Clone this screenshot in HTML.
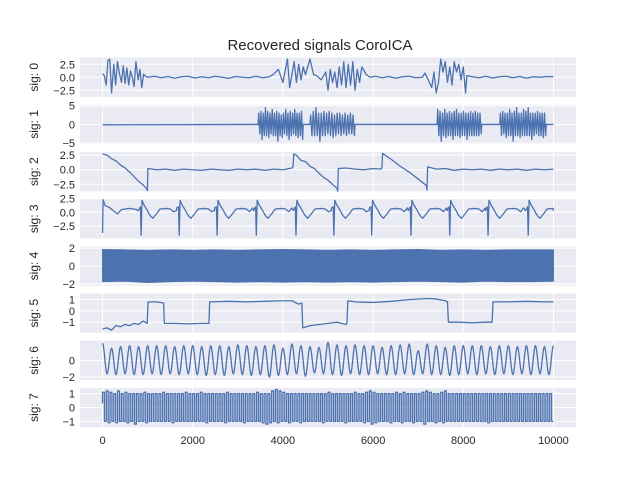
<!DOCTYPE html>
<html><head><meta charset="utf-8"><style>
body{margin:0;background:#fff}
svg text{font-family:"Liberation Sans",Arial,sans-serif;fill:#262626}
</style></head><body>
<svg id="c" width="640" height="480" xmlns="http://www.w3.org/2000/svg">
<text x="320" y="50" text-anchor="middle" font-size="15">Recovered signals CoroICA</text>
</svg>
<script>
const xTicks=[0,2000,4000,6000,8000,10000];
const panelNames=["sig: 0","sig: 1","sig: 2","sig: 3","sig: 4","sig: 5","sig: 6","sig: 7"];
const yRanges=[[-3.78,3.78],[-5.25,5.25],[-3.7,3.05],[-4.8,2.4],[-2.2,2.2],[-1.94,1.54],[-2.35,2.4],[-1.42,1.42]];
const yTicks=[[2.5,0,-2.5],[5,0,-5],[2.5,0,-2.5],[2.5,0,-2.5],[2,0,-2],[1,0,-1],[0,-2],[1,0,-1]];
const yTickLabels=[["2.5","0.0","−2.5"],["5","0","−5"],["2.5","0.0","−2.5"],["2.5","0.0","−2.5"],["2","0","−2"],["1","0","−1"],["0","−2"],["1","0","−1"]];
// sig0
const t0=[0,40,80,120,160,200,250,290,330,380,420,460,500,540,580,620,660,700,740,790,830,870,910,950,1000,1150,1300,1450,1600,1750,1900,2050,2200,2350,2500,2650,2800,2950,3100,3250,3400,3550,3700,3780,3900,4000,4100,4150,4250,4300,4350,4400,4450,4500,4600,4680,4750,4850,4950,5000,5050,5100,5150,5200,5250,5300,5350,5400,5450,5500,5550,5600,5650,5700,5750,5850,5930,6050,6200,6350,6500,6650,6800,6950,7090,7150,7250,7300,7350,7400,7450,7500,7550,7600,7650,7700,7750,7800,7850,7900,7950,8000,8050,8080,8200,8350,8500,8650,8800,8950,9100,9250,9400,9550,9700,9850,10000];
const v0=[0.7,0.3,-1.5,3.2,3.5,-3,2.5,-1.5,3,0.5,-1,2.2,-1.2,1.8,-1.5,1.2,0,-1.8,3,-0.5,1.5,-2,0.6,0.2,0,0.2,-0.1,0.15,-0.2,0.1,0.2,-0.15,0.1,-0.1,0.2,0,-0.2,0.15,0,-0.1,0.2,-0.1,0.1,0.5,1.5,-1,3.5,-2,3,-1,2.5,-0.5,2,0.5,3.5,0.5,0.3,-0.5,1,-2.5,1.5,-1,1,-2,2,-1.5,3,-2,2.5,-1.5,3,-2.5,1.5,-1,2,0.5,0,0.2,-0.1,0.15,-0.2,0.1,0.2,-0.1,0,0.8,-1,-2,1,-3,-1,3.5,1,3,-1,2,-1.5,3,1,2.5,-0.5,2,-3,0.3,0.1,-0.1,0.2,-0.15,0.1,0.2,-0.1,0.15,-0.2,0.1,0,0.15,0.1];
// sig1 bursts
const b1Start=[3450,4600,7420,8810];
const b1End=[4450,5600,8410,9840];
const b1Amp=[[3,-2.5,3.5,-4,3,-3,4.5,-3,3.5,-3.5,3,-2.5,4,-3,3,-3,3.5,-4.5,3,-3,2.5,-3.5,3,-2.5,4,-3,3,-4,3.5,-3,3,-2.5,4,-3,3,-3.5,3,-3,3.5,-4],[2.5,-3,3.5,-3,4.5,-3,3,-4.5,3,-3,3.5,-3,3,-2.5,3.5,-3,3,-3.5,2.5,-3,3,-2.5,3,-3,2.5,-2.5,3,-3,2.5,-2.5,3,-2.5,2.5,-3],[4,-3,3.5,-4.5,3,-3,4,-3.5,3,-3,3.5,-3,3,-4,3.5,-3,4,-3,3,-3.5,3,-3,3.5,-3,3,-4,3,-3,3.5,-3,3,-3,3.5,-3,3,-3,3,-2.5],[3,-3,3.5,-2.5,3,-3.5,3,-3,4,-3,3,-4.5,3.5,-3,4.5,-3,3,-3.5,3,-3,4,-3,3.5,-3,4.5,-3,3,-4,3,-3,3,-2.5,3.5,-3,3,-3,3,-3.5,3,-3]];
// sig2
const t2=[0,100,200,300,400,500,600,700,800,900,980,995,1005,1200,1400,1600,1800,2000,2200,2400,2600,2800,3000,3200,3400,3600,3800,4000,4200,4225,4240,4300,4400,4500,4600,4700,4800,4900,5000,5100,5200,5215,5230,5400,5600,5800,6000,6180,6195,6210,6400,6600,6800,7000,7180,7195,7210,7400,7600,7800,8000,8200,8400,8600,8800,9000,9200,9400,9600,9800,10000];
const v2=[2.7,2.5,1.9,1.5,0.8,0.3,-0.4,-1.2,-2,-2.6,-3.3,-3.6,0.2,0,0.1,-0.1,0.1,0,-0.1,0.1,0,-0.1,0.1,0,0.1,-0.1,0.1,0,0.3,0.5,2.7,2.5,1.6,1.4,0.6,0.2,-0.6,-1.3,-1.8,-2.5,-3.2,-3.7,0.2,0.3,0.1,0,0.2,0.1,0.3,2.8,1.8,0.6,-0.4,-1.6,-2.7,-3.5,0.5,0.1,0.2,-0.1,0.1,0,0.1,-0.1,0.1,0,0.1,-0.1,0.1,0,0.1];
// sig3
const beats3=[855,1700,2540,3410,4290,5130,5970,6840,7700,8550,9440];
const beatOff3=[-60,-15,0,20,60,120,200,260,340,420,550,650,720,790];
const beatVal3=[0.3,1.0,-4.2,2.2,1.4,0.6,-0.6,-1.1,-0.3,0.6,0.7,0.6,0.1,0.8];
// sig4 envelope
const t4=[0,500,1000,1500,2000,2500,3000,3500,4000,4500,5000,5500,6000,6500,7000,7500,8000,8500,9000,9500,10000];
const up4=[1.85,1.8,1.75,1.8,1.75,1.8,1.75,1.8,1.85,1.8,1.75,1.8,1.75,1.8,1.85,1.75,1.8,1.75,1.8,1.8,1.8];
const lo4=[-1.75,-1.7,-1.85,-1.75,-1.7,-1.75,-1.8,-1.75,-1.8,-1.75,-1.8,-1.75,-1.8,-1.75,-1.7,-1.75,-1.8,-1.7,-1.75,-1.75,-1.7];
// sig5
const t5=[0,100,200,300,400,500,600,700,800,900,990,1010,1200,1355,1370,1600,1900,2200,2360,2375,2800,3200,3600,4000,4200,4350,4420,4440,4600,4800,5000,5200,5400,5420,5440,5600,6000,6400,6800,7200,7400,7600,7650,7670,7900,8200,8500,8640,8660,9000,9400,9800,10000];
const v5=[-1.6,-1.5,-1.7,-1.3,-1.4,-1.2,-1.3,-1.1,-1.2,-0.9,-1.1,0.8,0.8,0.7,-1.1,-1.1,-1.15,-1.1,-1.1,0.8,0.85,0.8,0.85,0.9,0.9,0.6,0.7,-1.5,-1.3,-1.2,-1.1,-1.0,-1.2,-1.1,0.9,0.8,0.75,0.85,1.0,1.1,1.05,0.9,0.8,-1.0,-1.0,-1.05,-1.0,-1.0,0.8,0.8,0.85,0.8,0.8];
// sig6 extremes (half-cycles)
const ext6=[2.1,-1.6,1.5,-1.7,1.7,-1.6,1.8,-1.7,1.7,-1.7,1.8,-1.6,1.8,-1.7,1.8,-1.6,1.7,-1.7,1.8,-1.6,1.8,-1.7,1.7,-1.8,1.8,-1.7,1.8,-1.8,1.7,-1.6,1.9,-1.7,1.8,-1.8,1.7,-1.7,1.8,-2,1.9,-1.8,1.5,-1.7,2,-1.6,1.8,-1.9,1.7,-1.5,1.6,-1.6,2.2,-1.7,1.9,-1.8,1.8,-1.6,1.9,-1.7,1.8,-1.7,1.8,-1.6,1.6,-1.7,1.8,-1.7,1.9,-1.6,2,-1.7,1.2,-1.6,2,-1.7,1.8,-1.7,1.6,-1.8,1.8,-1.7,1.8,-1.6,1.8,-1.7,1.8,-1.6,1.7,-1.7,1.8,-1.6,1.8,-1.7,1.7,-1.6,1.8,-1.7,1.8,-1.6,1.7,-1.7,1.8];
// sig7 cycle highs / lows
const hi7=[1.1,1.2,1.1,1.0,1.2,1.0,1.1,1.0,1.0,1.0,1.0,1.1,1.0,1.0,1.0,1.0,1.1,1.0,1.0,1.0,1.0,1.0,1.1,1.0,1.0,1.0,1.1,1.0,1.0,1.0,1.0,1.0,1.0,1.1,1.0,1.0,1.0,1.0,1.0,1.0,1.0,1.1,1.0,1.0,1.0,1.2,1.3,1.2,1.1,1.0,1.0,1.0,1.0,1.0,1.0,1.0,1.0,1.0,1.0,1.0,1.1,1.0,1.0,1.0,1.0,1.0,1.0,1.1,1.0,1.0,1.1,1.2,1.1,1.0,1.0,1.0,1.0,1.0,1.1,1.0,1.1,1.0,1.0,1.0,1.0,1.1,1.2,1.1,1.0,1.0,1.1,1.2,1.0,1.0,1.0,1.0,1.0,1.0,1.0,1.0,1.0,1.0,1.0,1.0,1.0,1.0,1.0,1.0,1.0,1.0,1.0,1.0,1.0,1.0,1.0,1.0,1.0,1.0,1.0,1.0];
const lo7=[-1.0,-1.1,-1.0,-1.1,-1.0,-1.0,-1.1,-1.0,-1.2,-1.0,-1.0,-1.1,-1.0,-1.0,-1.0,-1.0,-1.0,-1.0,-1.1,-1.0,-1.0,-1.0,-1.0,-1.0,-1.0,-1.0,-1.0,-1.1,-1.0,-1.0,-1.0,-1.0,-1.1,-1.0,-1.0,-1.0,-1.0,-1.1,-1.0,-1.0,-1.0,-1.0,-1.1,-1.2,-1.1,-1.0,-1.1,-1.0,-1.0,-1.1,-1.0,-1.0,-1.1,-1.0,-1.0,-1.0,-1.0,-1.0,-1.1,-1.0,-1.0,-1.0,-1.0,-1.0,-1.1,-1.0,-1.0,-1.0,-1.0,-1.1,-1.0,-1.2,-1.1,-1.0,-1.0,-1.0,-1.1,-1.0,-1.0,-1.1,-1.0,-1.0,-1.1,-1.0,-1.0,-1.2,-1.0,-1.0,-1.1,-1.0,-1.1,-1.0,-1.0,-1.0,-1.0,-1.0,-1.0,-1.0,-1.0,-1.0,-1.0,-1.0,-1.1,-1.0,-1.0,-1.0,-1.0,-1.0,-1.0,-1.0,-1.0,-1.0,-1.0,-1.0,-1.0,-1.0,-1.0,-1.0,-1.0,-1.0];

const NS="http://www.w3.org/2000/svg",svg=document.getElementById('c');
const L=80,R=576,TOP=57.6,BOT=427.2,H=(BOT-TOP)/(8+7*0.2),GAP=H*0.2,X0=-500,X1=10500;
const C="#4c72b0";
function xs(v){return L+(v-X0)/(X1-X0)*(R-L);}
function mk(tag,attrs,parent){const e=document.createElementNS(NS,tag);for(const k in attrs)e.setAttribute(k,attrs[k]);(parent||svg).appendChild(e);return e;}
function panelTop(i){return TOP+i*(H+GAP);}
function ysf(i){const [a,b]=yRanges[i],t=panelTop(i);return v=>t+H-(v-a)/(b-a)*H;}
const series=[];
{let p=[];for(let k=0;k<t0.length;k++)p.push([t0[k],v0[k]]);series[0]=p;}
{let p=[[0,-0.1],[3450,0]];for(let b=0;b<b1Start.length;b++){const a=b1Amp[b],st=(b1End[b]-b1Start[b])/a.length;p.push([b1Start[b],0]);for(let k=0;k<a.length;k++)p.push([b1Start[b]+st*(k+0.5),a[k]]);p.push([b1End[b],0]);if(b+1<b1Start.length)p.push([b1Start[b+1],0]);}p.push([10000,0]);series[1]=p;}
{let p=[];for(let k=0;k<t2.length;k++)p.push([t2[k],v2[k]]);series[2]=p;}
{let p=[[0,-3.8],[12,2.3],[60,1.2],[150,0.9],[250,0.2],[330,-0.3],[420,0.5],[600,0.7],[750,0.5]];for(const b of beats3){for(let k=0;k<beatOff3.length;k++)p.push([b+beatOff3[k],beatVal3[k]]);}p.push([10000,0.3]);p=p.filter(q=>q[0]<=10000).sort((a,b)=>a[0]-b[0]);series[3]=p;}
{let p=[];for(let k=0;k<t5.length;k++)p.push([t5[k],v5[k]]);series[5]=p;}
{let p=[],st=10000/(ext6.length-1);for(let k=0;k<ext6.length-1;k++){const a=ext6[k],b=ext6[k+1];for(let s=0;s<6;s++){const f=(1-Math.cos(Math.PI*s/6))/2;p.push([(k+s/6)*st,a+(b-a)*f]);}}p.push([10000,ext6[ext6.length-1]]);series[6]=p;}
{let p=[[0,0.3]],P=10000/hi7.length;for(let k=0;k<hi7.length;k++){const t=k*P;p.push([t,hi7[k]],[t+P*0.5,hi7[k]],[t+P*0.5,lo7[k]],[t+P,lo7[k]]);}series[7]=p;}

for(let i=0;i<8;i++){
  const t=panelTop(i),ys=ysf(i);
  const g=mk('g',{});
  
  
  const bg=mk('rect',{x:L,y:t,width:R-L,height:H,fill:'#eaeaf2'},g);
  
  
  for(const xv of xTicks){const gl=mk('line',{x1:xs(xv),x2:xs(xv),y1:t,y2:t+H,stroke:'#fff','stroke-width':1},g);}
  yTicks[i].forEach((yv,k)=>{
    const y=ys(yv);
    const gl=mk('line',{x1:L,x2:R,y1:y,y2:y,stroke:'#fff','stroke-width':1},g);
    
    
    const tx=mk('text',{x:L-5,y:y+4,'text-anchor':'end','font-size':'11'},g);
    tx.textContent=yTickLabels[i][k];
    
    
  });
  const lab=mk('text',{x:0,y:0,'text-anchor':'middle','font-size':'12',transform:`translate(38,${t+H/2}) rotate(-90)`},g);
  lab.textContent=panelNames[i];
  
  
  if(i===4){
    let d='';for(let k=0;k<t4.length;k++)d+=(k?'L':'M')+xs(t4[k])+','+ys(up4[k]);
    for(let k=t4.length-1;k>=0;k--)d+='L'+xs(t4[k])+','+ys(lo4[k]);
    const pa=mk('path',{d:d+'Z',fill:C,stroke:C,'stroke-width':1},g);
    
    
  }else{
    const pts=series[i].map(q=>xs(q[0]).toFixed(2)+','+ys(q[1]).toFixed(2)).join(' ');
    const pl=mk('polyline',{points:pts,fill:'none',stroke:C,'stroke-width':1.3,'stroke-linejoin':'round'},g);
    
    
  }
}
for(const xv of xTicks){
  const tx=mk('text',{x:xs(xv),y:BOT+17,'text-anchor':'middle','font-size':'11'});
  tx.textContent=String(xv);
  
  
}
</script>
</body></html>
